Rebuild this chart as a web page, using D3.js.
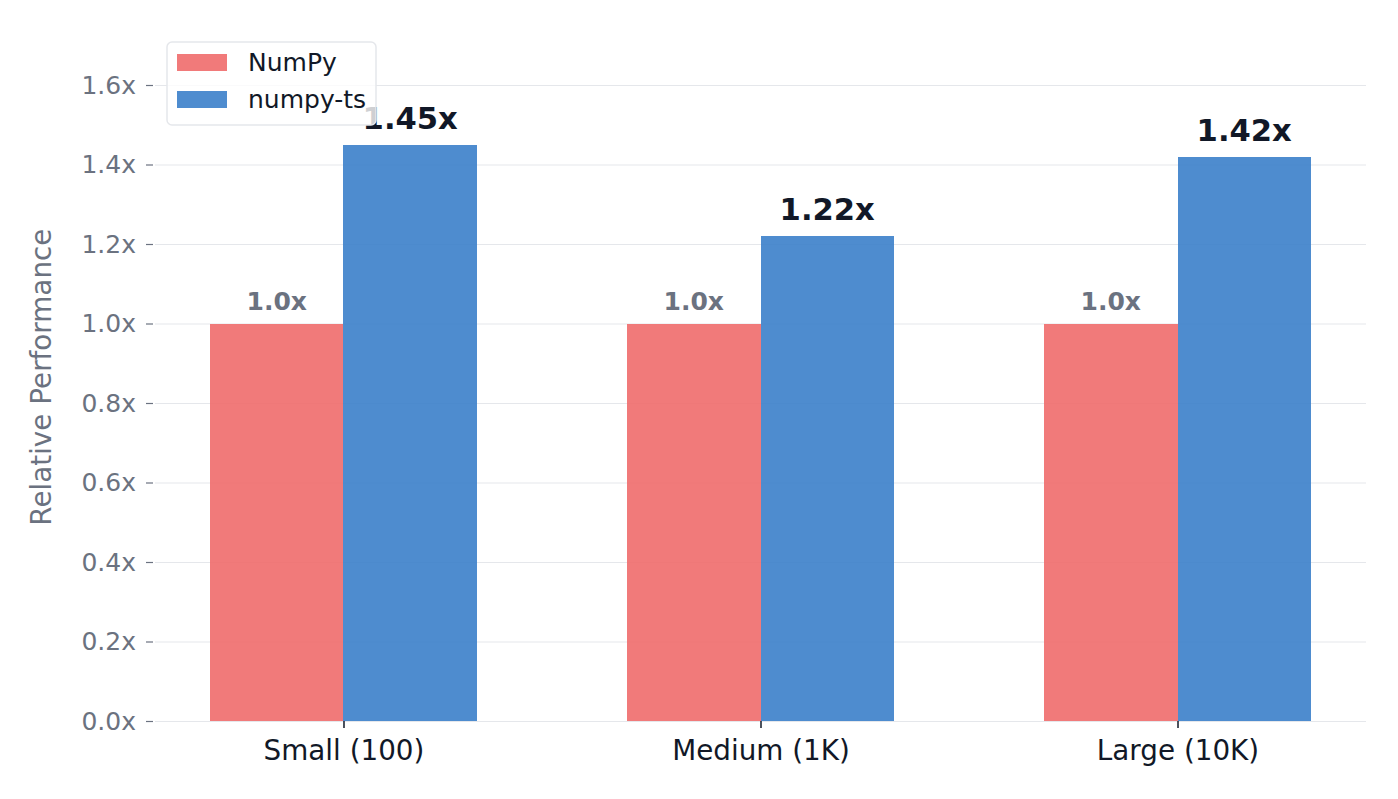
<!DOCTYPE html>
<html>
<head>
<meta charset="utf-8">
<script src="https://cdn.jsdelivr.net/npm/d3@7"></script>
<style>
  body { margin: 0; background: #fff; }
  svg, svg text { font-family: 'DejaVu Sans', sans-serif; }
</style>
</head>
<body>
<div id="chart"></div>
<script>
const categories = ['Small (100)', 'Medium (1K)', 'Large (10K)'];
const seriesNames = ['NumPy', 'numpy-ts'];
const numpyValues = [1.0, 1.0, 1.0];
const numpyTsValues = [1.45, 1.22, 1.42];
const yTicks = [0, 0.2, 0.4, 0.6, 0.8, 1.0, 1.2, 1.4, 1.6];

const width = 1398;
const height = 799;
const colors = ['#f06b6b', '#3b7fca'];

const svg = d3.select('#chart')
  .append('svg')
  .attr('width', width)
  .attr('height', height);

const barWidth = 0.32;
const xScale = d3.scaleLinear().domain([-0.452, 2.452]).range([155, 1366]);
const yScale = d3.scaleLinear().domain([0, 1.7]).range([721, 45.25]);

// gridlines
svg.append('g')
  .attr('transform', `translate(${xScale.range()[0]}, 0)`)
  .call(d3.axisLeft(yScale).tickValues(yTicks).tickFormat('').tickSize(-(xScale.range()[1] - xScale.range()[0])))
  .call((g) => g.select('.domain').remove())
  .call((g) => g.selectAll('line').attr('stroke', '#e5e7eb').attr('stroke-width', 1));

// y axis
const yAxis = svg.append('g')
  .attr('transform', `translate(${xScale.range()[0] - 2}, 0)`)
  .call(d3.axisLeft(yScale).tickValues(yTicks).tickFormat((d) => d.toFixed(1) + 'x').tickSize(7).tickPadding(10))
  .attr('font-family', 'DejaVu Sans, sans-serif');
yAxis.select('.domain').remove();
yAxis.selectAll('line').attr('stroke', '#6b7280').attr('stroke-width', 1.2);
yAxis.selectAll('text').attr('fill', '#6b7280').style('font-size', '25px');

svg.append('text')
  .attr('transform', `translate(51, ${(yScale(0) + yScale(1.7)) / 2 - 6}) rotate(-90)`)
  .attr('text-anchor', 'middle')
  .attr('fill', '#6b7280')
  .style('font-size', '27.8px')
  .text('Relative Performance');

// bars
const rows = categories.map((c, i) => ({ i, cat: c, vals: [numpyValues[i], numpyTsValues[i]] }));
const barData = rows.flatMap((r) => r.vals.map((v, s) => ({ i: r.i, s, v })));

svg.append('g')
  .selectAll('rect')
  .data(barData)
  .join('rect')
  .attr('x', (d) => xScale(d.i + (d.s === 0 ? -barWidth : 0)))
  .attr('y', (d) => yScale(d.v))
  .attr('width', xScale(barWidth) - xScale(0))
  .attr('height', (d) => yScale(0) - yScale(d.v))
  .attr('fill', (d) => colors[d.s])
  .attr('fill-opacity', 0.9)
  .attr('shape-rendering', 'crispEdges');

// value labels
svg.append('g')
  .selectAll('text')
  .data(barData)
  .join('text')
  .attr('x', (d) => xScale(d.i + (d.s === 0 ? -barWidth / 2 : barWidth / 2)))
  .attr('y', (d) => yScale(d.v) - (d.s === 0 ? 14 : 16))
  .attr('text-anchor', 'middle')
  .attr('font-weight', 'bold')
  .attr('fill', (d) => d.s === 0 ? '#6b7280' : '#111827')
  .style('font-size', (d) => d.s === 0 ? '25px' : '30.6px')
  .text((d) => d.s === 0 ? d.v.toFixed(1) + 'x' : d.v.toFixed(2) + 'x');

// x axis
const xAxis = svg.append('g')
  .attr('transform', `translate(0, ${yScale(0)})`)
  .call(d3.axisBottom(xScale).tickValues([0, 1, 2]).tickFormat((d) => categories[d]).tickSize(7).tickPadding(12))
  .attr('font-family', 'DejaVu Sans, sans-serif');
xAxis.select('.domain').remove();
xAxis.selectAll('line').attr('stroke', '#111827').attr('stroke-width', 1.5);
xAxis.selectAll('text').attr('fill', '#111827').style('font-size', '27.8px');

// legend
const legend = svg.append('g').attr('transform', 'translate(167, 42)');
legend.append('rect')
  .attr('width', 209)
  .attr('height', 83)
  .attr('rx', 5)
  .attr('fill', '#fff')
  .attr('fill-opacity', 0.8)
  .attr('stroke', '#e5e7eb')
  .attr('stroke-width', 1.5);

seriesNames.forEach((name, s) => {
  legend.append('rect')
    .attr('x', 10)
    .attr('y', 12 + s * 37)
    .attr('width', 50)
    .attr('height', 17)
    .attr('fill', colors[s])
    .attr('fill-opacity', 0.9);
  legend.append('text')
    .attr('x', 81)
    .attr('y', 29 + s * 37)
    .attr('fill', '#111827')
    .style('font-size', '25px')
    .text(name);
});
</script>
</body>
</html>
